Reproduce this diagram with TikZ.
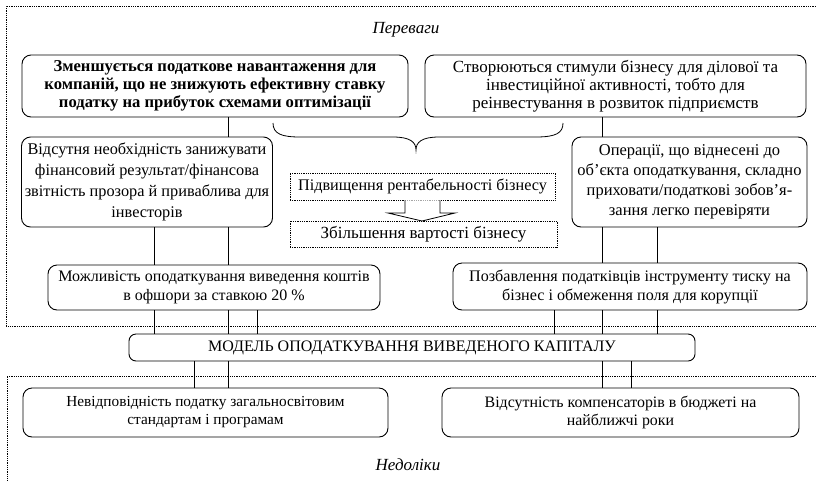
\documentclass[tikz,border=0pt]{standalone}
\usepackage{fontspec}
\setmainfont{Liberation Serif}
\begin{document}
\begin{tikzpicture}[x=1pt,y=-1pt,
  box/.style={draw,line width=0.9pt,rounded corners=9pt,inner sep=0pt,align=center},
  dbox/.style={draw,line width=0.7pt,dash pattern=on 0.9pt off 0.9pt,inner sep=0pt,align=center},
  region/.style={line width=0.7pt,dash pattern=on 0.9pt off 0.9pt},
  conn/.style={line width=0.9pt},
  lbl/.style={font=\itshape\fontsize{17}{20}\selectfont}]
\useasboundingbox (0,0) rectangle (816,480);
% regions
\draw[region] (816,6) -- (6,6) -- (6,326) -- (816,326);
\draw[region] (816,376) -- (7,376) -- (7,480);
\node[lbl] (pl) at (406,30) {Переваги};
\node[lbl] (mn) at (408,465) {Недоліки};
% boxes
\node[box,font=\bfseries\fontsize{16.6}{17.8}\selectfont,minimum width=386pt,minimum height=62pt] (A) at (215,86)
  {Зменшується податкове навантаження для\\компаній, що не знижують ефективну ставку\\податку на прибуток схемами оптимізації};
\node[box,font=\fontsize{17}{18}\selectfont,minimum width=381pt,minimum height=62pt] (B) at (615.5,86)
  {Створюються стимули бізнесу для ділової та\\інвестиційної активності, тобто для\\реінвестування в розвиток підприємств};
\node[box,font=\fontsize{16.3}{21}\selectfont,minimum width=251pt,minimum height=90pt] (C) at (147,182)
  {Відсутня необхідність занижувати\\фінансовий результат/фінансова\\звітність прозора й приваблива для\\інвесторів};
\node[box,font=\fontsize{16.5}{20}\selectfont,minimum width=235pt,minimum height=90pt] (D) at (689.5,182)
  {Операції, що віднесені до\\об’єкта оподаткування, складно\\приховати/податкові зобов’я-\\зання легко перевіряти};
\node[dbox,font=\fontsize{16.2}{20}\selectfont,minimum width=265pt,minimum height=27pt] (E) at (422.5,186.5)
  {Підвищення рентабельності бізнесу};
\node[dbox,font=\fontsize{17}{20}\selectfont,minimum width=267pt,minimum height=26pt] (F) at (423.5,234)
  {Збільшення вартості бізнесу};
\node[box,font=\fontsize{16}{19}\selectfont,minimum width=332pt,minimum height=45pt] (G) at (214,287.5)
  {Можливість оподаткування виведення коштів\\в офшори за ставкою 20 \%};
\node[box,font=\fontsize{16.1}{19}\selectfont,minimum width=354pt,minimum height=47pt] (H) at (630,286.5)
  {Позбавлення податківців інструменту тиску на\\бізнес і обмеження поля для корупції};
\node[box,font=\fontsize{16}{20}\selectfont,minimum width=566pt,minimum height=27pt,rounded corners=7pt] (M) at (412,347.5)
  {МОДЕЛЬ ОПОДАТКУВАННЯ ВИВЕДЕНОГО КАПІТАЛУ};
\node[box,font=\fontsize{15.3}{18}\selectfont,minimum width=365pt,minimum height=49pt] (I) at (205.5,412.5)
  {Невідповідність податку загальносвітовим\\стандартам і програмам};
\node[box,font=\fontsize{15.9}{18}\selectfont,minimum width=357pt,minimum height=49pt] (J) at (620.5,412.5)
  {Відсутність компенсаторів в бюджеті на\\найближчі роки};
% column coordinates
\coordinate (k154) at (154,0);
\coordinate (k194) at (194,0);
\coordinate (k228) at (228,0);
\coordinate (k257) at (257,0);
\coordinate (k554) at (554,0);
\coordinate (k602) at (602,0);
\coordinate (k631) at (631,0);
\coordinate (k657) at (657,0);
% connectors
\draw[conn] (A.south -| k228) -- (C.north -| k228);
\draw[conn] (B.south -| k602) -- (D.north -| k602);
\draw[conn] (C.south -| k154) -- (G.north -| k154);
\draw[conn] (C.south -| k228) -- (G.north -| k228);
\draw[conn] (D.south -| k602) -- (H.north -| k602);
\draw[conn] (D.south -| k657) -- (H.north -| k657);
\draw[conn] (G.south -| k154) -- (M.north -| k154);
\draw[conn] (G.south -| k228) -- (M.north -| k228);
\draw[conn] (G.south -| k257) -- (M.north -| k257);
\draw[conn] (H.south -| k554) -- (M.north -| k554);
\draw[conn] (H.south -| k602) -- (M.north -| k602);
\draw[conn] (H.south -| k657) -- (M.north -| k657);
\draw[conn] (M.south -| k194) -- (I.north -| k194);
\draw[conn] (M.south -| k228) -- (I.north -| k228);
\draw[conn] (M.south -| k602) -- (J.north -| k602);
\draw[conn] (M.south -| k631) -- (J.north -| k631);
% brace
\draw[line width=0.8pt] (273,123) .. controls (273,134) and (282,137) .. (300,137)
  -- (393,137) .. controls (410,137) and (416,142) .. (416,150)
  .. controls (416,142) and (422,137) .. (439,137)
  -- (536,137) .. controls (556,137) and (563,133) .. (563,123);
% block arrow
\draw[line width=0.8pt,fill=white] (E.south -| 405,0) -- (405,213) -- (388,213) -- (422,221) -- (455,213) -- (440,213) -- (E.south -| 440,0);
\end{tikzpicture}
\end{document}
